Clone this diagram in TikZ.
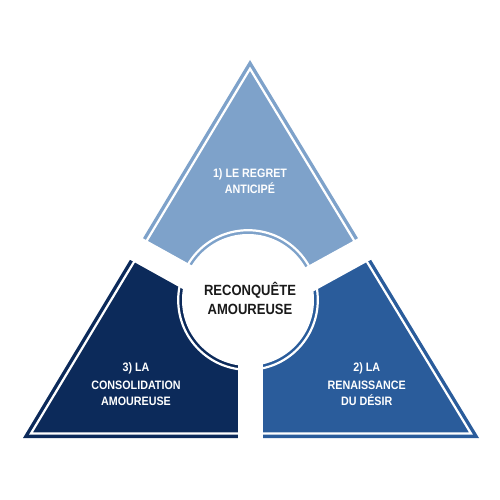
\documentclass[tikz,border=0pt]{standalone}
\usepackage{fontspec}
\setmainfont{Liberation Sans}
\newfontfamily\narrowfont[FakeStretch=0.88]{Liberation Sans}
\usetikzlibrary{calc}
\definecolor{topc}{HTML}{7EA2CA}
\definecolor{leftc}{HTML}{0C2A5A}
\definecolor{rightc}{HTML}{2A5C9B}
\definecolor{txt}{HTML}{1A1A1A}
\begin{document}
\begin{tikzpicture}[x=1pt,y=-1pt,
  lab/.style={text=white,font=\narrowfont\bfseries\fontsize{12.2}{14}\selectfont,anchor=base,inner sep=0pt},
  ctr/.style={text=txt,font=\narrowfont\bfseries\fontsize{14.8}{17}\selectfont,anchor=base,inner sep=0pt},
  gapband/.style={white,line width=25pt},
  insetline/.style={white,line width=2.2pt}]
\useasboundingbox[fill=white] (0,0) rectangle (500,500);
\coordinate (A) at (250,60);
\coordinate (BL) at (23,438);
\coordinate (BR) at (479,438);
\coordinate (C) at (250,312);
\coordinate (L) at ($(A)!0.5!(BL)$);
\coordinate (R) at ($(A)!0.5!(BR)$);
\coordinate (B) at (250,438);
\coordinate (O) at (248,300);
\coordinate (I) at (250,309.3);
% pieces
\fill[topc] (A) -- (L) -- (C) -- (R) -- cycle;
\fill[leftc] (L) -- (BL) -- (B) -- (C) -- cycle;
\fill[rightc] (R) -- (C) -- (B) -- (BR) -- cycle;
% inner white outlines
\draw[insetline] ($(I)!0.965!(A)$) -- ($(I)!0.965!(BL)$) -- ($(I)!0.965!(BR)$) -- cycle;
\draw[insetline] (O) circle (69.8);
% gaps
\coordinate (Le) at ($(C)!1.2!(L)$);
\coordinate (Re) at ($(C)!1.2!(R)$);
\coordinate (Be) at (250,460);
\draw[gapband] (C) -- (Le);
\draw[gapband] (C) -- (Re);
\draw[gapband] (C) -- (Be);
% central disc
\fill[white] (O) circle (66);
% texts
\node[ctr] (c1) at (250,295) {RECONQUÊTE};
\node[ctr] (c2) at (250,314) {AMOUREUSE};
\node[lab] (t1) at (250,177.7) {1) LE REGRET};
\node[lab] (t2) at (250,193) {ANTICIPÉ};
\node[lab] (r1) at (366.7,371.7) {2) LA};
\node[lab] (r2) at (366.7,389) {RENAISSANCE};
\node[lab] (r3) at (366.7,405.7) {DU DÉSIR};
\node[lab] (l1) at (136,371.7) {3) LA};
\node[lab] (l2) at (136,389) {CONSOLIDATION};
\node[lab] (l3) at (136,405.7) {AMOUREUSE};
\end{tikzpicture}
\end{document}
